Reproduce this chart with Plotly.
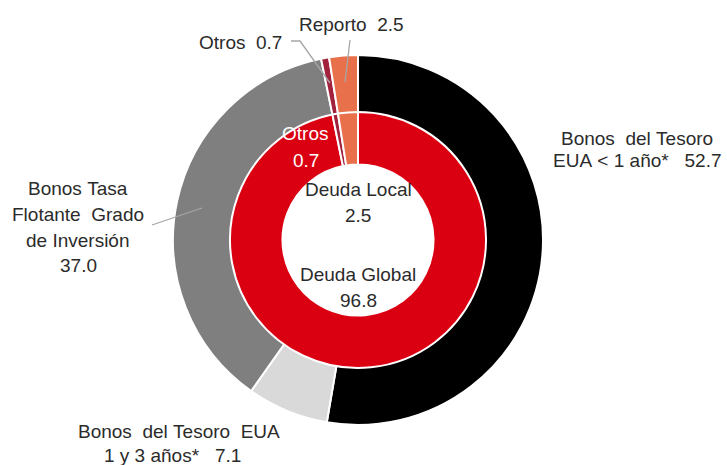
import plotly.graph_objects as go

W, H = 727, 465

outer_labels = ["Bonos del Tesoro EUA < 1 año*", "Bonos del Tesoro EUA 1 y 3 años*",
                "Bonos Tasa Flotante Grado de Inversión", "Otros", "Reporto"]
outer_values = [52.7, 7.1, 37.0, 0.7, 2.5]
outer_colors = ["#000000", "#d9d9d9", "#7f7f7f", "#a2223c", "#e8704a"]

inner_labels = ["Deuda Global", "Otros", "Deuda Local"]
inner_values = [96.8, 0.7, 2.5]
inner_colors = ["#db0011", "#a2223c", "#e8704a"]

cx, cy = 358, 240
r_out, r_mid = 185, 128


def px_x(x):
    return x / W


def px_y(y):
    return 1 - y / H


fig = go.Figure()
fig.add_trace(go.Pie(
    labels=outer_labels, values=outer_values, sort=False, direction="clockwise",
    rotation=0, hole=0.675, textinfo="none", hoverinfo="label+value",
    marker=dict(colors=outer_colors, line=dict(color="white", width=2)),
    domain=dict(x=[px_x(cx - r_out), px_x(cx + r_out)], y=[px_y(cy + r_out), px_y(cy - r_out)]),
    showlegend=False,
))
fig.add_trace(go.Pie(
    labels=inner_labels, values=inner_values, sort=False, direction="clockwise",
    rotation=0, hole=0.59, textinfo="none", hoverinfo="label+value",
    marker=dict(colors=inner_colors, line=dict(color="white", width=2)),
    domain=dict(x=[px_x(cx - r_mid), px_x(cx + r_mid)], y=[px_y(cy + r_mid), px_y(cy - r_mid)]),
    showlegend=False,
))

FS = 19
font = dict(family="Liberation Sans, Arial, sans-serif", size=FS, color="#2b2b2b")
wfont = dict(family="Liberation Sans, Arial, sans-serif", size=FS, color="#ffffff")
NB = "\u00a0"

ann = [
    (637, 138, f"Bonos{NB}{NB}del{NB}Tesoro", font),
    (637, 161, f"EUA{NB}<{NB}1{NB}año*{NB}{NB}{NB}{outer_values[0]:.1f}", font),
    (179, 431, f"Bonos{NB}{NB}del{NB}Tesoro{NB}{NB}EUA", font),
    (172, 455, f"1{NB}y{NB}3{NB}años*{NB}{NB}{NB}{outer_values[1]:.1f}", font),
    (78, 188, f"Bonos{NB}Tasa", font),
    (78, 214, f"Flotante{NB}{NB}Grado", font),
    (78, 240, f"de{NB}Inversión", font),
    (78, 265, f"{outer_values[2]:.1f}", font),
    (240, 42, f"Otros{NB}{NB}{outer_values[3]:.1f}", font),
    (351, 24, f"Reporto{NB}{NB}{outer_values[4]:.1f}", font),
    (305, 133, "Otros", wfont),
    (306, 160, f"{inner_values[1]:.1f}", wfont),
    (358, 189, f"Deuda{NB}Local", font),
    (358, 215, f"{inner_values[2]:.1f}", font),
    (358, 274, f"Deuda{NB}Global", font),
    (358, 300, f"{inner_values[0]:.1f}", font),
]
annotations = []
for x, y, t, f in ann:
    annotations.append(dict(x=px_x(x), y=px_y(y), xref="paper", yref="paper", text=t,
                            showarrow=False, align="center", font=f, xanchor="center", yanchor="middle"))

line_style = dict(color="#a6a6a6", width=1.3)
shapes = [
    dict(type="path", xref="paper", yref="paper",
         path=f"M {px_x(291)} {px_y(41)} L {px_x(300)} {px_y(41)} L {px_x(330)} {px_y(83)}",
         line=line_style),
    dict(type="line", xref="paper", yref="paper", x0=px_x(350), y0=px_y(40), x1=px_x(345), y1=px_y(82),
         line=line_style),
    dict(type="line", xref="paper", yref="paper", x0=px_x(152), y0=px_y(225), x1=px_x(202), y1=px_y(208),
         line=line_style),
]

fig.update_layout(width=W, height=H, margin=dict(l=0, r=0, t=0, b=0),
                  paper_bgcolor="white", plot_bgcolor="white",
                  annotations=annotations, shapes=shapes, showlegend=False)
fig.write_html("out.html", config={"displayModeBar": False},
               post_script="document.body.style.margin='0';document.body.style.overflow='hidden';")
